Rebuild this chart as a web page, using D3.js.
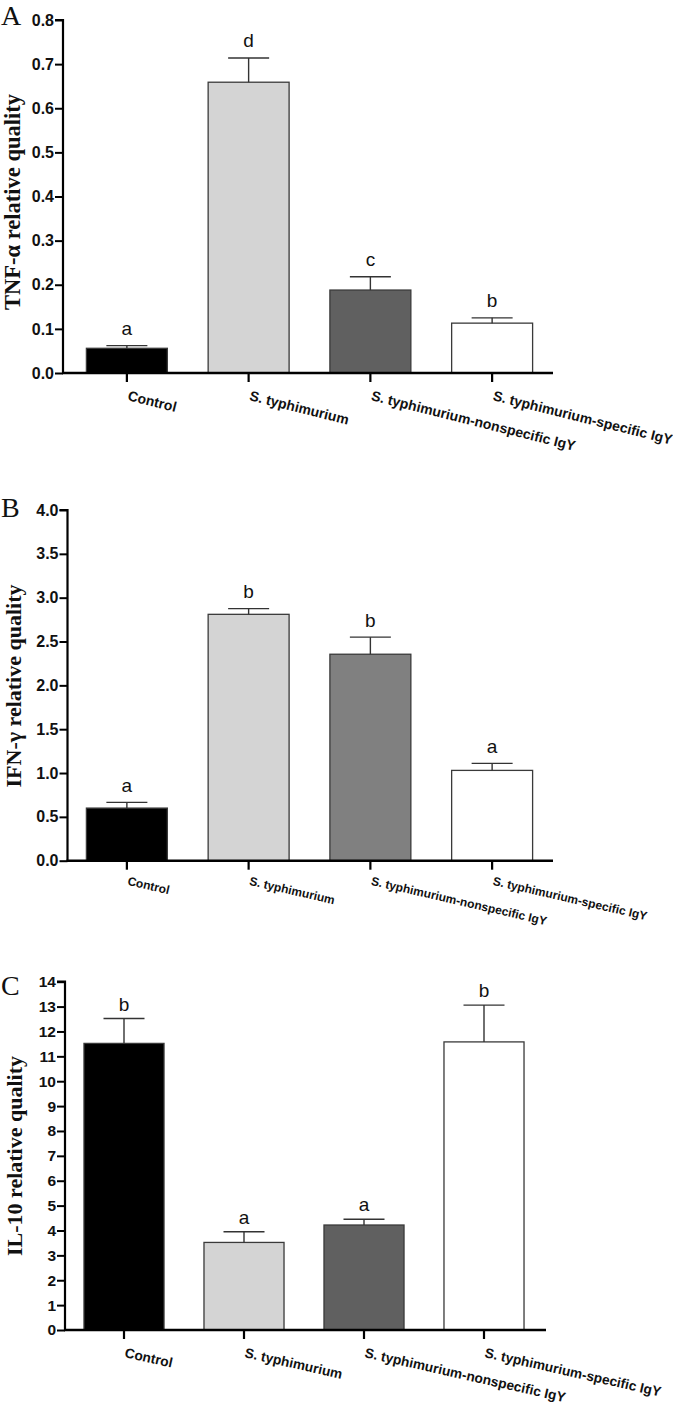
<!DOCTYPE html>
<html><head><meta charset="utf-8">
<script src="https://cdn.jsdelivr.net/npm/d3@7"></script>
<style>body{margin:0;background:#fff}svg{display:block}</style>
</head><body>
<svg id="c" width="673" height="1410"></svg>
<script>
const categories = ["Control","S. typhimurium","S. typhimurium-nonspecific IgY","S. typhimurium-specific IgY"];

const tnfMean = [0.056, 0.659, 0.188, 0.113];
const tnfErr  = [0.006, 0.055, 0.030, 0.012];
const tnfLetters = ["a","d","c","b"];
const tnfTicks = [0,0.1,0.2,0.3,0.4,0.5,0.6,0.7,0.8];

const ifnMean = [0.60, 2.81, 2.355, 1.03];
const ifnErr  = [0.065, 0.065, 0.195, 0.08];
const ifnLetters = ["a","b","b","a"];
const ifnTicks = [0,0.5,1.0,1.5,2.0,2.5,3.0,3.5,4.0];

const il10Mean = [11.52, 3.52, 4.22, 11.58];
const il10Err  = [1.0, 0.43, 0.23, 1.48];
const il10Letters = ["b","a","a","b"];
const il10Ticks = [0,1,2,3,4,5,6,7,8,9,10,11,12,13,14];

const svg = d3.select("#c");

function panel(o){
  const g = svg.append("g");
  const y = d3.scaleLinear().domain([0, o.max]).range([o.y0, o.y1]);
  const x = d3.scaleBand().domain(categories).range([o.bx0, o.bx1]).paddingInner(o.pad).paddingOuter(o.pad/2);
  // bars
  g.selectAll("rect.bar").data(o.mean).enter().append("rect")
    .attr("x",(d,i)=>x(categories[i])).attr("width",x.bandwidth())
    .attr("y",d=>y(d)).attr("height",d=>y(0)-y(d))
    .attr("fill",(d,i)=>o.colors[i]).attr("stroke","#3a3a3a").attr("stroke-width",1.3);
  // error bars
  o.mean.forEach((m,i)=>{
    const cx = x(categories[i]) + x.bandwidth()/2;
    g.append("line").attr("x1",cx).attr("x2",cx).attr("y1",y(m)).attr("y2",y(m+o.err[i]))
      .attr("stroke","#333").attr("stroke-width",1.4);
    g.append("line").attr("x1",cx-20.5).attr("x2",cx+20.5).attr("y1",y(m+o.err[i])).attr("y2",y(m+o.err[i]))
      .attr("stroke","#333").attr("stroke-width",1.4);
    g.append("text").attr("x",cx).attr("y",y(m+o.err[i])-o.gap)
      .attr("text-anchor","middle").attr("font-family","Liberation Sans, Arial, sans-serif")
      .attr("font-size",19).attr("fill","#111").text(o.letters[i]);
  });
  // y axis
  const ya = d3.axisLeft(y).tickValues(o.ticks).tickFormat(o.fmt).tickSize(8).tickPadding(1);
  const yg = g.append("g").attr("transform",`translate(${o.ax},0)`).call(ya);
  yg.select(".domain").attr("stroke","#000").attr("stroke-width",2.2).attr("d",`M-8,${o.y1}H0V${o.y0}`);
  yg.selectAll(".tick line").attr("stroke","#000").attr("stroke-width",2);
  yg.selectAll(".tick text").attr("font-family","Liberation Sans, Arial, sans-serif").attr("font-weight","bold")
    .attr("font-size",o.tfs).attr("fill","#111");
  // x axis
  const xa = d3.axisBottom(x).tickSize(9).tickFormat("");
  const xg = g.append("g").attr("transform",`translate(0,${o.y0})`).call(xa);
  xg.select(".domain").attr("stroke","#000").attr("stroke-width",2.6).attr("d",`M${o.ax-1},0H${o.axEnd}`);
  xg.selectAll(".tick line").attr("stroke","#000").attr("stroke-width",2.2);
  categories.forEach((c,i)=>{
    const cx = x(c) + x.bandwidth()/2;
    g.append("text").attr("transform",`translate(${cx},${o.y0+o.lo}) rotate(${o.rot})`)
      .attr("font-family","Liberation Sans, Arial, sans-serif").attr("font-weight","bold")
      .attr("font-size",o.lfs).attr("fill","#111").text(c);
  });
  // y title
  g.append("text").attr("transform",`translate(${o.tx},${o.ty}) rotate(-90)`)
    .attr("text-anchor","middle").attr("font-family","Liberation Serif, Times New Roman, serif")
    .attr("font-weight","bold").attr("font-size",o.tfsz).attr("fill","#111").text(o.title);
  // panel letter
  g.append("text").attr("x",1).attr("y",o.ly).attr("font-family","Liberation Serif, Times New Roman, serif")
    .attr("font-size",28).attr("fill","#111").text(o.panel);
}

panel({panel:"A", ly:25, max:0.8, y0:373, y1:20, bx0:66, bx1:553, pad:0.335, ax:63, axEnd:553,
  mean:tnfMean, err:tnfErr, letters:tnfLetters, ticks:tnfTicks, fmt:d3.format(".1f"), tfs:16,
  colors:["#000000","#d4d4d4","#606060","#ffffff"], gap:10.5, lo:27, rot:14, lfs:14,
  title:"TNF-α relative quality", tx:20, ty:202, tfsz:22.5});

panel({panel:"B", ly:517, max:4, y0:860.7, y1:510, bx0:66, bx1:553, pad:0.335, ax:67.5, axEnd:553,
  mean:ifnMean, err:ifnErr, letters:ifnLetters, ticks:ifnTicks, fmt:d3.format(".1f"), tfs:16,
  colors:["#000000","#d4d4d4","#808080","#ffffff"], gap:10.5, lo:24, rot:13, lfs:12,
  title:"IFN-γ relative quality", tx:21, ty:686, tfsz:22});

panel({panel:"C", ly:995, max:14, y0:1330, y1:981.7, bx0:64, bx1:544, pad:0.333, ax:65, axEnd:546,
  mean:il10Mean, err:il10Err, letters:il10Letters, ticks:il10Ticks, fmt:d3.format("d"), tfs:15.5,
  colors:["#000000","#d4d4d4","#606060","#ffffff"], gap:8, lo:27, rot:12.7, lfs:13.7,
  title:"IL-10 relative quality", tx:22, ty:1156, tfsz:22});
</script>
</body></html>
